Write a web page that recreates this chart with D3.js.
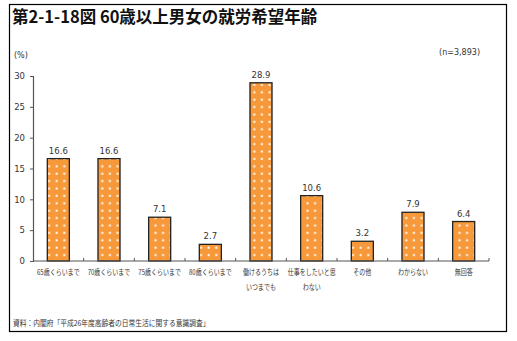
<!DOCTYPE html>
<html>
<head>
<meta charset="utf-8">
<script src="https://cdn.jsdelivr.net/npm/d3@7"></script>
<style>
  html, body { margin: 0; padding: 0; background: #fff; }
  svg { display: block; font-family: "Noto Sans CJK JP", "Noto Sans", sans-serif; }
</style>
</head>
<body>
<svg id="chart" width="517" height="341"></svg>
<script>
// 60歳以上男女の就労希望年齢
const categories = [
  ["65歳くらいまで"],
  ["70歳くらいまで"],
  ["75歳くらいまで"],
  ["80歳くらいまで"],
  ["働けるうちは", "いつまでも"],
  ["仕事をしたいと思", "わない"],
  ["その他"],
  ["わからない"],
  ["無回答"]
];
const values = [16.6, 16.6, 7.1, 2.7, 28.9, 10.6, 3.2, 7.9, 6.4];
const yTicks = [0, 5, 10, 15, 20, 25, 30];

const svg = d3.select("#chart");

// squeeze a text horizontally to a share of its natural width
function condense(sel, ratio) {
  sel.each(function () {
    const w = this.getComputedTextLength();
    d3.select(this).attr("textLength", w * ratio).attr("lengthAdjust", "spacingAndGlyphs");
  });
}

// outer frame
svg.append("rect")
  .attr("x", 9.5).attr("y", 4.5)
  .attr("width", 497).attr("height", 327)
  .attr("fill", "none").attr("stroke", "#000").attr("stroke-width", 1.2);

svg.append("text")
  .attr("x", 12).attr("y", 23)
  .attr("font-size", 16.5).attr("font-weight", "bold").attr("fill", "#111")
  .text("第2-1-18図 60歳以上男女の就労希望年齢");

const plot = { left: 33, right: 489, top: 76, bottom: 261 };

const x = d3.scaleBand()
  .domain(d3.range(categories.length))
  .range([plot.left, plot.right])
  .paddingInner(0.565).paddingOuter(0.2825);

const y = d3.scaleLinear().domain([0, 30]).range([plot.bottom, plot.top]);

// dotted fill
const defs = svg.append("defs");
const pat = defs.append("pattern")
  .attr("id", "dots").attr("patternUnits", "userSpaceOnUse")
  .attr("width", 7.6).attr("height", 7.4);
pat.append("rect").attr("width", 7.6).attr("height", 7.4).attr("fill", "#F7993A");
pat.append("rect").attr("x", 2.5).attr("y", 2.5).attr("width", 2).attr("height", 2).attr("fill", "#fff");

// y axis
const yAxis = d3.axisLeft(y).tickValues(yTicks).tickSize(3).tickPadding(5);
const gy = svg.append("g").attr("transform", `translate(${plot.left},0)`).call(yAxis);
gy.select(".domain").attr("stroke", "#555").attr("stroke-width", 1.2);
gy.selectAll(".tick line").attr("stroke", "#555");
gy.selectAll(".tick text").attr("font-size", 8.5).attr("fill", "#333")
  .attr("font-family", "Verdana, 'DejaVu Sans', sans-serif");

svg.append("text").attr("x", 14).attr("y", 58)
  .attr("font-size", 8).attr("fill", "#333")
  .attr("font-family", "Verdana, 'DejaVu Sans', sans-serif")
  .text("(%)");

svg.append("text").attr("x", 480).attr("y", 55).attr("text-anchor", "end")
  .attr("font-size", 8).attr("fill", "#333")
  .attr("font-family", "Verdana, 'DejaVu Sans', sans-serif")
  .text("(n=3,893)");

// bars
svg.append("g").selectAll("rect").data(values).join("rect")
  .attr("x", (d, i) => x(i))
  .attr("y", d => y(d))
  .attr("width", x.bandwidth())
  .attr("height", d => y(0) - y(d))
  .attr("fill", "url(#dots)")
  .attr("stroke", "#222").attr("stroke-width", 1.3);

// value labels
svg.append("g").selectAll("text").data(values).join("text")
  .attr("x", (d, i) => x(i) + x.bandwidth() / 2)
  .attr("y", d => y(d) - 5)
  .attr("text-anchor", "middle")
  .attr("font-size", 8.5).attr("fill", "#333")
  .attr("font-family", "Verdana, 'DejaVu Sans', sans-serif")
  .text(d => d.toFixed(1));

// x axis line and category separators
svg.append("line")
  .attr("x1", plot.left).attr("x2", plot.right)
  .attr("y1", plot.bottom).attr("y2", plot.bottom)
  .attr("stroke", "#555").attr("stroke-width", 1.2);
svg.append("g").selectAll("line").data(d3.range(1, categories.length + 1)).join("line")
  .attr("x1", i => plot.left + i * (plot.right - plot.left) / categories.length)
  .attr("x2", i => plot.left + i * (plot.right - plot.left) / categories.length)
  .attr("y1", plot.bottom).attr("y2", plot.bottom - 3)
  .attr("stroke", "#555");

// category labels, one text per line
const lines = [];
categories.forEach((c, i) => c.forEach((t, j) => lines.push({ i, j, t })));
svg.append("g").selectAll("text").data(lines).join("text")
  .attr("x", d => x(d.i) + x.bandwidth() / 2)
  .attr("y", d => 275 + d.j * 15)
  .attr("text-anchor", "middle")
  .attr("font-size", 7.5).attr("fill", "#333")
  .text(d => d.t)
  .call(condense, 0.8);

svg.append("text").attr("x", 13).attr("y", 326)
  .attr("font-size", 7.5).attr("fill", "#333")
  .text("資料：内閣府「平成26年度高齢者の日常生活に関する意識調査」")
  .call(condense, 0.9);
</script>
</body>
</html>
